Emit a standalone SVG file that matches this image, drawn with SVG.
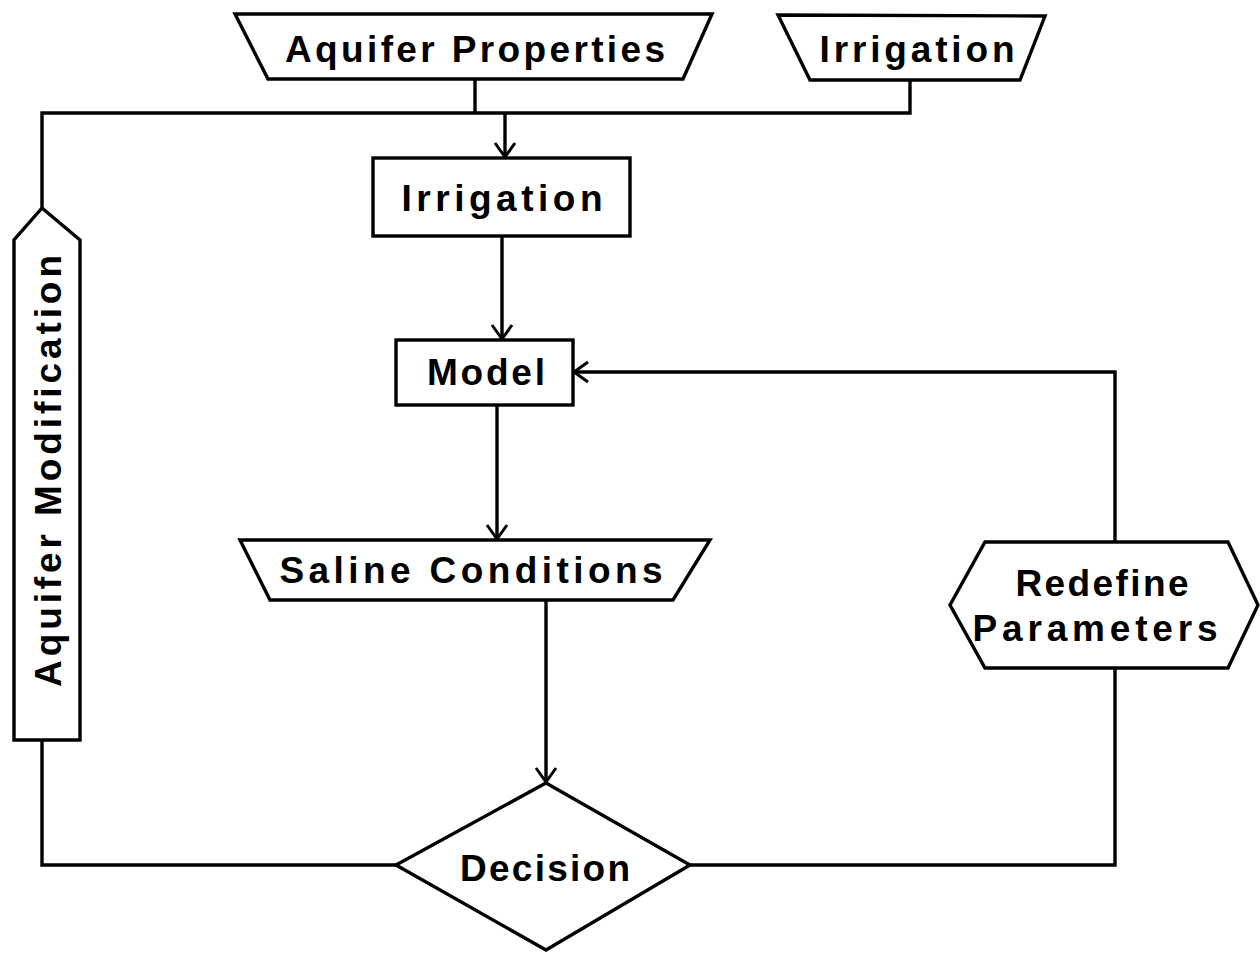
<svg xmlns="http://www.w3.org/2000/svg" width="1260" height="953" viewBox="0 0 1260 953">
<defs>
<marker id="arr" markerWidth="24" markerHeight="24" refX="20" refY="12" orient="auto" markerUnits="userSpaceOnUse">
<path d="M6,2 L20,12 L6,22" fill="none" stroke="#000" stroke-width="3"/>
</marker>
<style>
.s{fill:#fff;stroke:#000;stroke-width:3.4;stroke-linejoin:miter}
.c{fill:none;stroke:#000;stroke-width:3.4}
.t{font-family:"Liberation Sans",Arial,sans-serif;font-weight:bold;font-size:37px;fill:#000}
</style>
</defs>
<rect width="1260" height="953" fill="#fff"/>
<g id="connectors">
<polyline class="c" points="475,79 475,113"/>
<polyline class="c" points="910,80 910,113 42,113 42,208"/>
<polyline class="c" points="505,113 505,157" marker-end="url(#arr)"/>
<polyline class="c" points="502,236 502,339" marker-end="url(#arr)"/>
<polyline class="c" points="497,405 497,539" marker-end="url(#arr)"/>
<polyline class="c" points="546,600 546,782" marker-end="url(#arr)"/>
<polyline class="c" points="396,865 42,865 42,740"/>
<polyline class="c" points="690,865 1115,865 1115,668"/>
<polyline class="c" points="1115,542 1115,372 574,372" marker-end="url(#arr)"/>
</g>
<g id="aquifer-properties">
<polygon class="s" points="235,14 712,14 683,79 268,79"/>
<text class="t" x="475" y="62" text-anchor="middle" textLength="380" lengthAdjust="spacing">Aquifer Properties</text>
</g>
<g id="irrigation-input">
<polygon class="s" points="778,15 1045,16 1020,80 810,80"/>
<text class="t" x="917" y="62" text-anchor="middle" textLength="195" lengthAdjust="spacing">Irrigation</text>
</g>
<g id="irrigation">
<rect class="s" x="373" y="158" width="257" height="78"/>
<text class="t" x="502" y="211" text-anchor="middle" textLength="201" lengthAdjust="spacing">Irrigation</text>
</g>
<g id="model">
<rect class="s" x="396" y="340" width="177" height="65"/>
<text class="t" x="486" y="385" text-anchor="middle" textLength="118" lengthAdjust="spacing">Model</text>
</g>
<g id="saline-conditions">
<polygon class="s" points="240,540 710,540 673,600 270,600"/>
<text class="t" x="471" y="583" text-anchor="middle" textLength="383" lengthAdjust="spacing">Saline Conditions</text>
</g>
<g id="decision">
<polygon class="s" points="546,783 690,865 546,950 396,865"/>
<text class="t" x="545" y="881" text-anchor="middle" textLength="170" lengthAdjust="spacing">Decision</text>
</g>
<g id="redefine-parameters">
<polygon class="s" points="950,605 985,542 1228,542 1258,605 1228,668 985,668"/>
<text class="t" x="1102" y="596" text-anchor="middle" textLength="173" lengthAdjust="spacing">Redefine</text>
<text class="t" x="1095" y="641" text-anchor="middle" textLength="245" lengthAdjust="spacing">Parameters</text>
</g>
<g id="aquifer-modification">
<polygon class="s" points="42,208 80,240 80,740 14,740 14,240"/>
<text class="t" transform="translate(61,471) rotate(-90)" x="0" y="0" text-anchor="middle" textLength="432" lengthAdjust="spacing">Aquifer Modification</text>
</g>
</svg>
